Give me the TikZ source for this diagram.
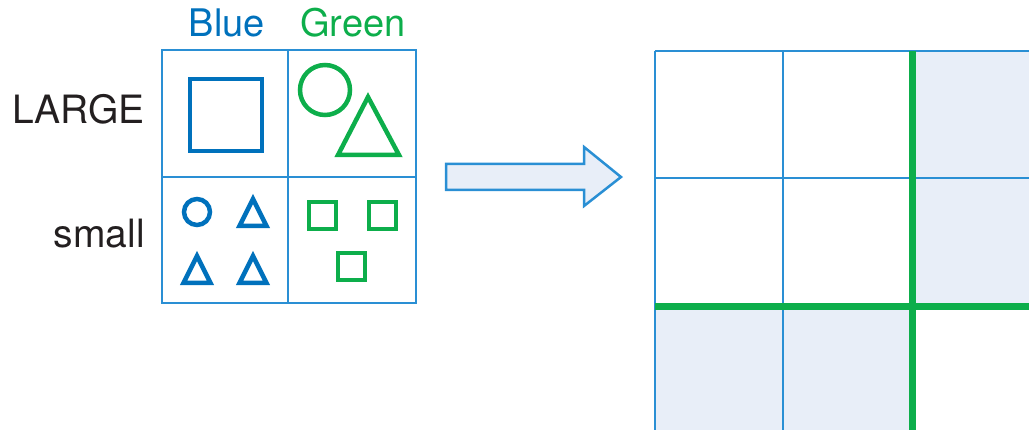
\documentclass[tikz,border=0pt]{standalone}
\usepackage{fontspec}
\setmainfont{TeX Gyre Heros}
\usetikzlibrary{positioning}
\definecolor{gridblue}{HTML}{2A8FD4}
\definecolor{shapeblue}{HTML}{0071BC}
\definecolor{shapegreen}{HTML}{0DAE4B}
\definecolor{cellshade}{HTML}{E8EEF8}
\definecolor{inkblack}{HTML}{231F20}
\tikzset{thinline/.style = {draw=gridblue, line width=2.2},
  blueshape/.style = {draw=shapeblue, line width=4.5},
  greenshape/.style = {draw=shapegreen, line width=4.5},
  greenline/.style = {draw=shapegreen, line width=7},
  rowtext/.style = {inner sep=0, text=inkblack, font=\fontsize{39}{39}\selectfont},
  coltext/.style = {inner sep=0, font=\fontsize{38}{38}\selectfont}}

\begin{document}
\begin{tikzpicture}[x=1pt, y=-1pt]
      \useasboundingbox (0,0) rectangle (1029,430);
      % labels
      \node [coltext, text=shapeblue, anchor=base] (blue) at (227,37) {Blue};
      \node [coltext, text=shapegreen, anchor=base] (green) at (353,37) {Green};
      \node [rowtext, anchor=base east] (large) at (145,124) {LARGE};
      \node [rowtext, anchor=base east] (small) at (145,248) {small};
      % table of shapes
      \draw [thinline] (162,50) rectangle (416,303);
      \draw [thinline] (288,50) -- (288,303);
      \draw [thinline] (162,177) -- (416,177);
      \draw [blueshape] (190,79) rectangle (262,151);
      \draw [greenshape] (325,90) circle [radius=25];
      \draw [greenshape] (368,97) -- (399,155) -- (338,155) -- cycle;
      \draw [blueshape] (197,212) circle [radius=13];
      \foreach \x/\y in {253/199, 197/256, 253/256} {
        \draw [blueshape] (\x,\y) -- ++(13.5,27) -- ++(-27,0) -- cycle;
      }
      \foreach \x/\y in {309/202, 369/202, 338/253} {
        \draw [greenshape] (\x,\y) rectangle ++(27,27);
      }
      % arrow
      \draw [draw=gridblue, fill=cellshade, line width=2.5] (446,164) -- (584,164) -- (584,147)
        -- (621,177) -- (584,206) -- (584,190) -- (446,190) -- cycle;
      % grid
      \begin{scope}
        \clip (0,0) rectangle (1029,430);
        \fill [cellshade] (912,51) rectangle (1040,307);
        \fill [cellshade] (655,307) rectangle (912,440);
        \foreach \x in {655, 783} {
          \draw [thinline] (\x,51) -- (\x,440);
        }
        \foreach \y in {51, 178} {
          \draw [thinline] (655,\y) -- (1040,\y);
        }
        \draw [greenline] (912,51) -- (912,440);
        \draw [greenline] (655,307) -- (1040,307);
      \end{scope}
    \end{tikzpicture}
\end{document}
